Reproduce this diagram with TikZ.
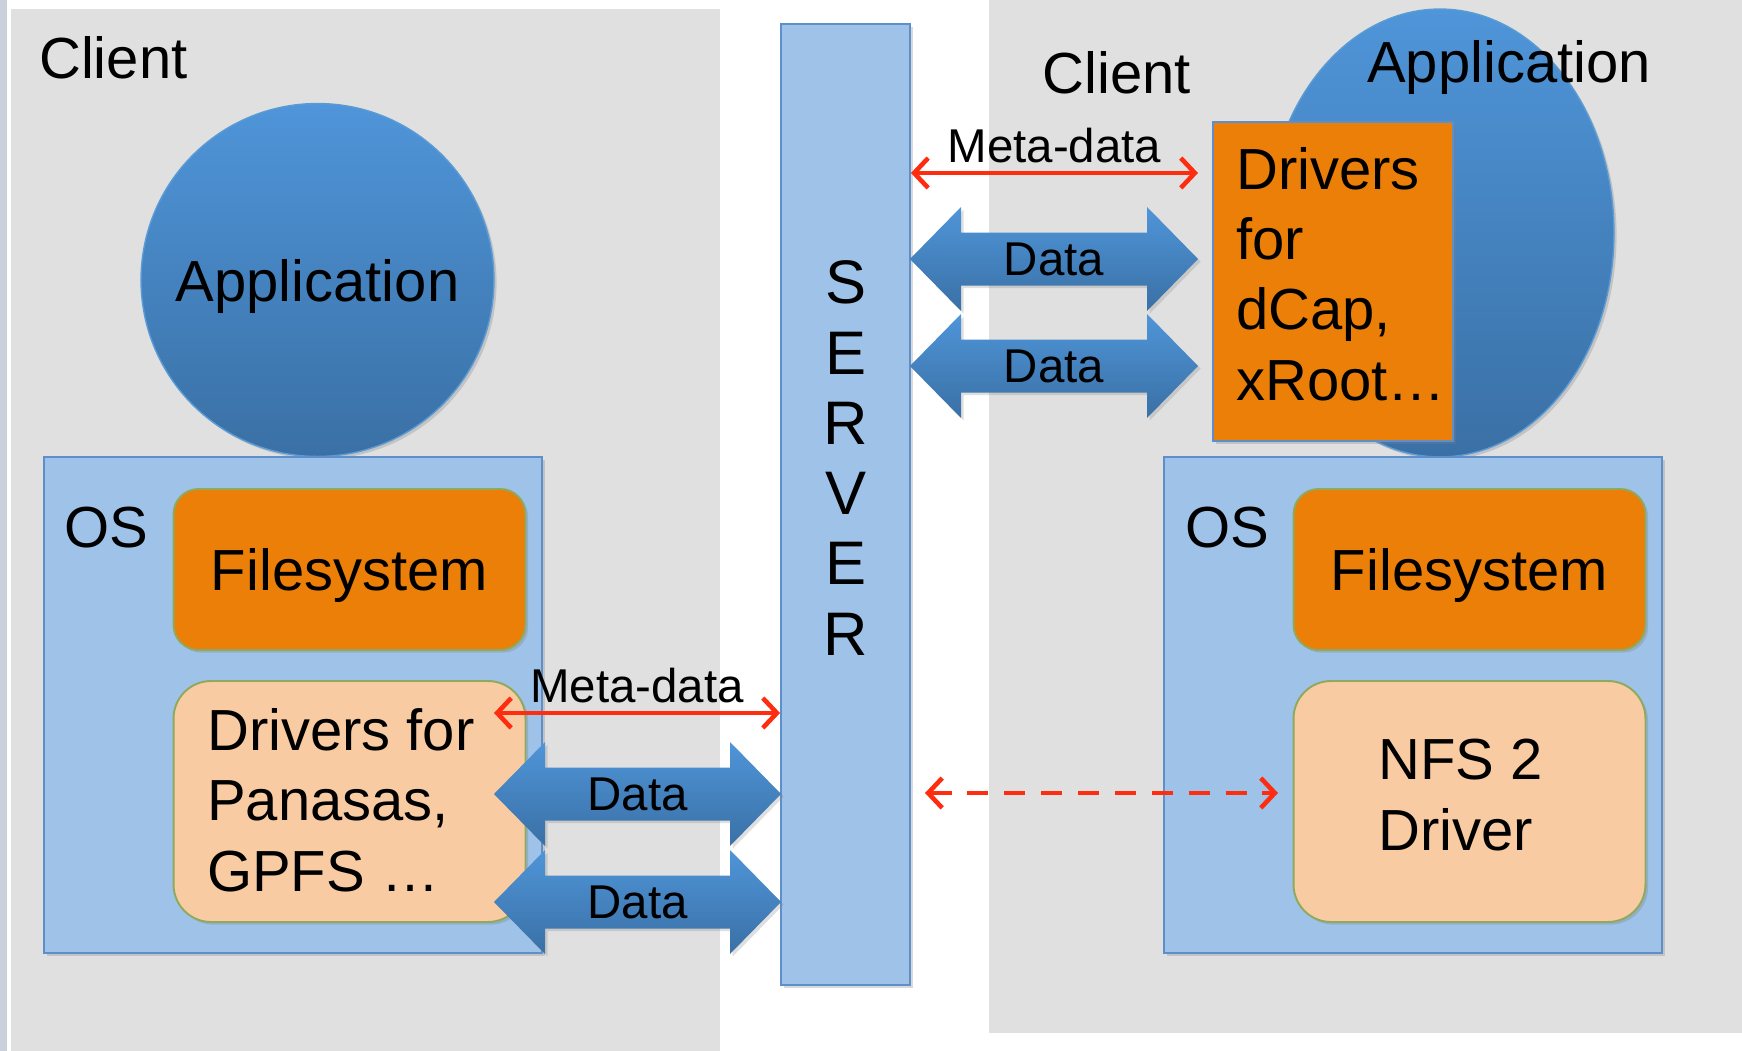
\documentclass[tikz,border=0pt]{standalone}
\usepackage{fontspec}
\setmainfont{Liberation Sans}
\usetikzlibrary{arrows.meta,shadows,shapes.geometric}
\definecolor{PanelGrey}{HTML}{E0E0E0}
\definecolor{EdgeGrey}{HTML}{CBD1DA}
\definecolor{OsBlue}{HTML}{9FC2E8}
\definecolor{OsLine}{HTML}{5F8FCB}
\definecolor{AppTop}{HTML}{4F95D9}
\definecolor{AppBottom}{HTML}{3A70A5}
\definecolor{AppLine}{HTML}{5B9BD5}
\definecolor{FsOrange}{HTML}{EB7F07}
\definecolor{DrvPeach}{HTML}{F9CBA3}
\definecolor{OliveLine}{HTML}{8FA95E}
\definecolor{MetaRed}{HTML}{FF2D10}

\begin{document}
\begin{tikzpicture}[x=0.02cm,y=-0.02cm,
  bigtext/.style={font=\fontsize{33}{40}\selectfont},
  smalltext/.style={font=\fontsize{27}{32}\selectfont},
  softshadow/.style={drop shadow={opacity=0.3,shadow xshift=1.5pt,shadow yshift=-1.5pt}},
  appnode/.style={bigtext,draw=AppLine,line width=0.8pt,top color=AppTop,bottom color=AppBottom,softshadow},
  osbox/.style={draw=OsLine,line width=1.1pt,fill=OsBlue,inner sep=0pt,minimum width=9.96cm,minimum height=9.92cm,softshadow},
  fsbox/.style={bigtext,text depth=0pt,draw=OliveLine,line width=1.1pt,fill=FsOrange,rounded corners=0.5cm,minimum width=7.04cm,minimum height=3.22cm,softshadow},
  drvbox/.style={draw=OliveLine,line width=1.1pt,fill=DrvPeach,rounded corners=0.75cm,minimum width=7.04cm,minimum height=4.82cm,softshadow},
  metaarrow/.style={MetaRed,line width=2.6pt,>={Straight Barb[length=8pt,width=17pt]},<->}]
  \useasboundingbox (0,0) rectangle (1742,1051);
  % grey client panels
  \fill[EdgeGrey] (0,0) rectangle (7,1051);
  \fill[PanelGrey] (11,9) rectangle (720,1051);
  \fill[PanelGrey] (989,0) rectangle (1742,1033);
  \node[bigtext,anchor=west] (clientL) at (33,58) {Client};
  \node[bigtext] (clientR) at (1117,73) {Client};

  % left client
  \node[appnode,circle,minimum size=7.06cm,inner sep=0pt,text depth=0pt] (appL) at (317.5,280) {Application};
  \node[osbox] (osL) at (293,705) {};
  \node[bigtext] (osLlabel) at (106,528) {OS};
  \node[fsbox] (fsL) at (349.5,569.5) {Filesystem};
  \node[drvbox] (drvL) at (349.5,801.5) {};
  \node[bigtext,align=left,anchor=west] (drvLtext) at (201,800) {Drivers for\\Panasas,\\GPFS …};

  % server
  \node[draw=OsLine,line width=1.1pt,fill=OsBlue,minimum width=2.58cm,minimum height=19.22cm,softshadow] (server) at (845.5,504.5) {};
  \node[align=center,font=\fontsize{35}{40}\selectfont] (svrtext) at (845.5,458) {S\\E\\R\\V\\E\\R};

  % right client
  \node[appnode,ellipse,minimum width=6.96cm,minimum height=8.96cm,inner sep=0pt] (appR) at (1440,233) {};
  \node[bigtext,text depth=0pt] (appRlabel) at (1509,61) {Application};
  \node[draw=OsLine,line width=1.1pt,fill=FsOrange,minimum width=4.8cm,minimum height=6.38cm,softshadow] (drvR) at (1333,281.5) {};
  \node[bigtext,align=left,anchor=west] (drvRtext) at (1230,274) {Drivers\\for\\dCap,\\xRoot…};
  \node[osbox] (osR) at (1413,705) {};
  \node[bigtext] (osRlabel) at (1227,528) {OS};
  \node[fsbox] (fsR) at (1469.5,569.5) {Filesystem};
  \node[drvbox] (nfsR) at (1469.5,801.5) {};
  \node[bigtext,align=left,anchor=west] (nfsRtext) at (1372,795) {NFS 2\\Driver};

  % data arrows
  \foreach \n/\xa/\xb/\y in {dataL1/494/781/794, dataL2/494/781/902, dataR1/910/1198/259, dataR2/910/1198/366}
  {
    \shade[top color=AppTop,bottom color=AppBottom,drop shadow={opacity=0.25,shadow xshift=1.5pt,shadow yshift=-1.5pt}]
      (\xa,\y) -- (\xa+51,\y-52) -- (\xa+51,\y-26.5) -- (\xb-51,\y-26.5) -- (\xb-51,\y-52) -- (\xb,\y)
      -- (\xb-51,\y+52) -- (\xb-51,\y+26.5) -- (\xa+51,\y+26.5) -- (\xa+51,\y+52) -- cycle;
    \node[smalltext] (\n) at ({(\xa+\xb)/2},\y) {Data};
  }

  % meta-data arrows
  \coordinate (mdL) at (494,713);
  \coordinate (mdR) at (1198,173);
  \draw[metaarrow] (mdL) -- (server.west |- mdL) node[midway,above=1pt,smalltext,text=black] (mdLlabel) {Meta-data};
  \draw[metaarrow] (server.east |- mdR) -- (mdR) node[midway,above=1pt,smalltext,text=black] (mdRlabel) {Meta-data};
  \coordinate (nfsA) at (925,793);
  \coordinate (nfsB) at (1278,793);
  \draw[metaarrow,dash pattern=on 12pt off 9pt] (nfsA) -- (nfsB);
\end{tikzpicture}
\end{document}
